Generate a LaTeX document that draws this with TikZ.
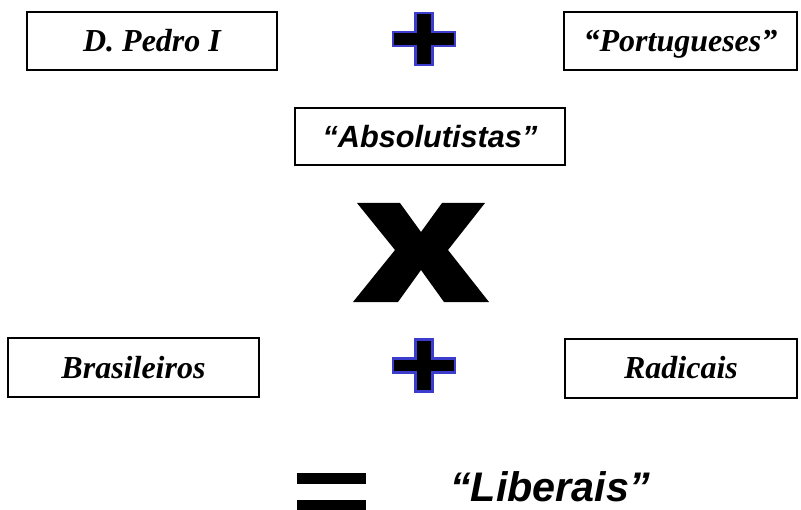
\documentclass[tikz,border=0pt]{standalone}
\usepackage{fontspec}
\setmainfont{Liberation Serif}
\setsansfont{Liberation Sans}
\usetikzlibrary{positioning}
\definecolor{plusblue}{RGB}{60,60,205}
\tikzset{
	namebox/.style={draw,line width=1.5pt,inner sep=0pt,
		font=\fontsize{24}{28}\selectfont\bfseries\itshape,
		text height=16pt,text depth=0pt},
	groupbox/.style={namebox,font=\sffamily\fontsize{23}{27}\selectfont\bfseries\itshape,
		text height=16.5pt},
	plussign/.pic={
		\fill[draw=plusblue,line width=1.8pt,fill=black]
		(-8.5,-26) -- (8.5,-26) -- (8.5,-7) -- (31,-7) -- (31,7) -- (8.5,7)
		-- (8.5,26) -- (-8.5,26) -- (-8.5,7) -- (-31,7) -- (-31,-7) -- (-8.5,-7) -- cycle;
	}
}
\begin{document}
\begin{tikzpicture}[x=0.75pt,y=-0.75pt]
	\useasboundingbox (0,0) rectangle (801,510);
	\clip (0,0) rectangle (801,510);
	% first line
	\node[namebox,minimum width=187.5pt,minimum height=43.5pt] (pedro) at (152,41) {D. Pedro I};
	\pic at (424,39) {plussign};
	\node[namebox,minimum width=174.75pt,minimum height=43.5pt] (portugueses) at (680.5,41) {``Portugueses''};
	\node[groupbox,minimum width=202.5pt,minimum height=42.75pt] (absolutistas) at (430,136.5) {``Absolutistas''};
	% versus
	\fill (357,203) -- (400,203) -- (421,232) -- (442,203) -- (485,203) -- (448,250)
		-- (489,302) -- (444,302) -- (421,270) -- (398,302) -- (353,302) -- (395,250) -- cycle;
	% second line
	\node[namebox,minimum width=188.25pt,minimum height=44.25pt] (brasileiros) at (133.5,367.5) {Brasileiros};
	\pic at (424,365.5) {plussign};
	\node[namebox,minimum width=174pt,minimum height=44.25pt] (radicais) at (681,368) {Radicais};
	% result
	\fill (297,473) rectangle (366,484);
	\fill (297,500) rectangle (366,512);
	\node[anchor=base,inner sep=0pt,text depth=0pt,font=\sffamily\fontsize{31}{36}\selectfont\bfseries\itshape] (liberais) at (550,501) {``Liberais''};
\end{tikzpicture}
\end{document}
